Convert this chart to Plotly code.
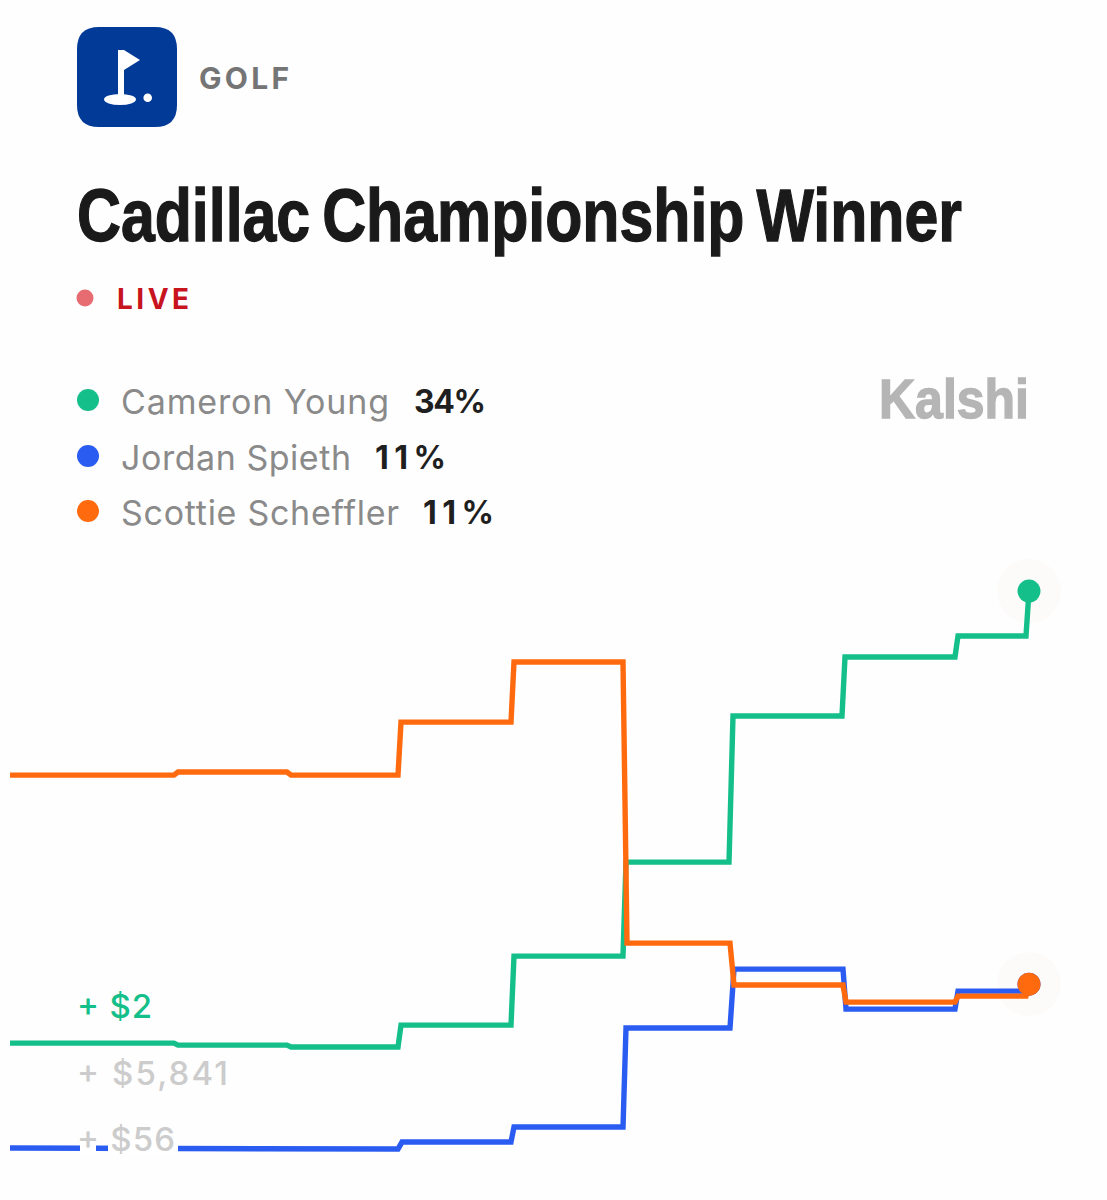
import json
import plotly.graph_objects as go

W, H = 1107, 1200

# Time axis: minutes from chart start, percent chance on the value axis
young_x = [10, 174, 178, 287, 291, 398, 401, 511, 514, 623, 626, 729, 733, 842, 845, 955, 958, 1026, 1029]
young_y = [7.55, 7.55, 7.43, 7.43, 7.32, 7.32, 8.60, 8.60, 12.64, 12.64, 18.14, 18.14, 26.69, 26.69, 30.14, 30.14, 31.37, 31.37, 34]

spieth_x = [10, 174, 178, 287, 291, 398, 402, 511, 514, 623, 626, 730, 734, 843, 846, 955, 958, 1026, 1029]
spieth_y = [1.41, 1.41, 1.38, 1.38, 1.35, 1.35, 1.76, 1.76, 2.64, 2.64, 8.43, 8.43, 11.88, 11.88, 9.54, 9.54, 10.59, 10.59, 11]

scheffler_x = [10, 174, 178, 287, 291, 398, 401, 511, 514, 623, 627, 730, 734, 843, 846, 955, 958, 1026, 1029]
scheffler_y = [23.23, 23.23, 23.41, 23.41, 23.23, 23.23, 26.33, 26.33, 29.85, 29.85, 13.40, 13.40, 10.95, 10.95, 9.95, 9.95, 10.30, 10.30, 11]

names = ["Cameron Young", "Jordan Spieth", "Scottie Scheffler"]
latest = ["34%", "11%", "11%"]
payouts = ["+ $2", "+ $5,841", "+ $56"]
GREEN, BLUE, ORANGE = "#14BF8A", "#2B5CF2", "#FF6A0F"

Y_TOP, Y_BOTTOM = 68.58, -1.63
FONT = "Inter, 'Noto Sans', sans-serif"
SANS = "'Liberation Sans', sans-serif"


def px(x):
    return x / W


def py(y):
    return 1 - y / H


def note(x, y, text, size, color, family=FONT, weight=None):
    return dict(x=px(x), y=py(y), xref="paper", yref="paper", text=text, showarrow=False,
                xanchor="left", yanchor="middle", align="left", borderpad=0,
                font=dict(size=size, color=color, family=family, weight=weight))


def circle(cx, cy, r, color):
    return dict(type="circle", xref="paper", yref="paper", x0=px(cx - r), x1=px(cx + r),
                y0=py(cy + r), y1=py(cy - r), fillcolor=color, line_width=0)


def path(points, color):
    d = "M " + " L ".join(f"{px(a):.5f},{py(b):.5f}" for a, b in points) + " Z"
    return dict(type="path", xref="paper", yref="paper", path=d, fillcolor=color, line_width=0)


fig = go.Figure()
for xs, ys in [(young_x, young_y), (scheffler_x, scheffler_y)]:
    fig.add_trace(go.Scatter(x=xs[-1:], y=ys[-1:], mode="markers", showlegend=False, hoverinfo="skip",
                             marker=dict(size=64, color="#FDFBFA", line_width=0)))
for name, xs, ys, color in [(names[1], spieth_x, spieth_y, BLUE),
                            (names[0], young_x, young_y, GREEN),
                            (names[2], scheffler_x, scheffler_y, ORANGE)]:
    fig.add_trace(go.Scatter(x=xs, y=ys, mode="lines", name=name, showlegend=False,
                             line=dict(color=color, width=5.4, shape="linear")))
    fig.add_trace(go.Scatter(x=xs[-1:], y=ys[-1:], mode="markers", showlegend=False, hoverinfo="skip",
                             marker=dict(size=23, color=color, line_width=0)))

shapes = [
    dict(type="path", xref="paper", yref="paper", fillcolor="#023A97", line_width=0,
         path=(f"M {px(99)},{py(27)} L {px(155)},{py(27)} Q {px(177)},{py(27)} {px(177)},{py(49)} "
               f"L {px(177)},{py(105)} Q {px(177)},{py(127)} {px(155)},{py(127)} "
               f"L {px(99)},{py(127)} Q {px(77)},{py(127)} {px(77)},{py(105)} "
               f"L {px(77)},{py(49)} Q {px(77)},{py(27)} {px(99)},{py(27)} Z")),
    dict(type="circle", xref="paper", yref="paper", x0=px(104), x1=px(136), y0=py(105), y1=py(94),
         fillcolor="white", line_width=0),
    path([(118, 50), (124, 50), (124, 99), (118, 99)], "white"),
    path([(124, 50), (140, 60), (124, 70)], "white"),
    circle(147.7, 97.7, 4.3, "white"),
    circle(85, 298, 8.5, "#E66C72"),
    circle(88, 400, 11, GREEN),
    circle(88, 456, 11, BLUE),
    circle(88, 511, 11, ORANGE),
    # page-coloured gaps the payout label cuts out of the blue line
    dict(type="rect", xref="paper", yref="paper", x0=px(80), x1=px(96), y0=py(1154), y1=py(1140),
         fillcolor="white", line_width=0, layer="above"),
    dict(type="rect", xref="paper", yref="paper", x0=px(108), x1=px(178), y0=py(1154), y1=py(1140),
         fillcolor="white", line_width=0, layer="above"),
]

TITLE = "Cadillac Championship Winner"
annotations = [
    note(198, 78, "<b>GOLF</b>", 30, "#757575"),
    note(76, 214, f"<b>{TITLE}</b>", 56, "#1A1A1A", family=SANS),
    note(116, 299, "<b>LIVE</b>", 28, "#C8141E"),
    note(878, 399, "<b>Kalshi</b>", 55, "#B5B5B5", family=SANS),
    note(120, 401, names[0], 34, "#8A8A8A"),
    note(413, 401, f"<b>{latest[0]}</b>", 32, "#1F1F1F"),
    note(120, 457, names[1], 34, "#8A8A8A"),
    note(374, 457, f"<b>{latest[1]}</b>", 32, "#1F1F1F"),
    note(120, 512, names[2], 34, "#8A8A8A"),
    note(422, 512, f"<b>{latest[2]}</b>", 32, "#1F1F1F"),
    note(76, 1006, payouts[0], 33, GREEN, weight=500),
    note(76, 1073, payouts[1], 33, "#CCCCCC", weight=500),
    note(76, 1139, payouts[2], 33, "#CCCCCC", weight=500),
]

fig.update_layout(
    width=W, height=H, margin=dict(l=0, r=0, t=0, b=0),
    paper_bgcolor="#FEFEFE", plot_bgcolor="#FEFEFE", showlegend=False,
    xaxis=dict(range=[0, W], visible=False, fixedrange=True),
    yaxis=dict(range=[Y_BOTTOM, Y_TOP], visible=False, fixedrange=True),
    shapes=shapes, annotations=annotations,
)

# Text widths seen in the reference: [annotation order index, width, squeeze glyphs?, stroke]
fits = [[0, 90, 0, 0], [1, 885, 1, 1.0], [2, 72, 0, 0], [3, 150, 1, 1.4],
        [4, 268, 0, 0], [5, 72, 0, 0], [6, 230, 0, 0], [7, 71, 0, 0], [8, 278, 0, 0], [9, 71, 0, 0],
        [10, 75, 0, 0], [11, 151, 0, 0], [12, 98, 0, 0]]
post = """
document.body.style.margin='0';document.body.style.background='#FEFEFE';
var fits=%s;
var gd=document.querySelector('.plotly-graph-div');
var anns=gd.querySelectorAll('.annotation');
fits.forEach(function(f){var a=anns[f[0]];if(!a)return;
 var t=a.querySelector('.annotation-text');
 if(f[0]===1){t.style.wordSpacing='-4.5px';}
 t.setAttribute('textLength',f[1]);
 t.setAttribute('lengthAdjust',f[2]?'spacingAndGlyphs':'spacing');
 if(f[3]){t.style.stroke=t.style.fill;t.style.strokeWidth=f[3]+'px';}
 var r=a.querySelector('.bg');if(r){r.setAttribute('width',f[1]);}
 if(f[0]===1){var b=t.getBBox();var cy=b.y+b.height/2;var s=75/56;
  t.setAttribute('transform','translate(0,'+(cy*(1-s))+') scale(1,'+s+')');}
});
""" % json.dumps(fits)

fig.write_html("out.html", config=dict(displayModeBar=False), post_script=post)
